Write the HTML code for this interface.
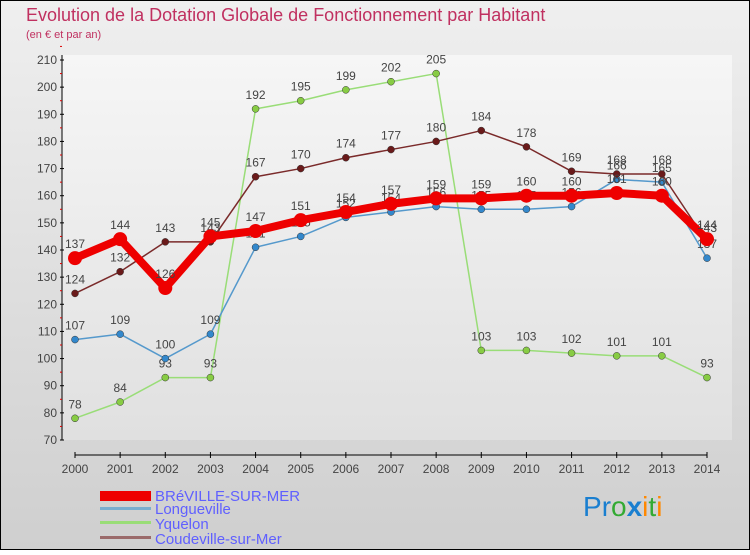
<!DOCTYPE html>
<html><head><meta charset="utf-8"><style>
body{margin:0;width:750px;height:550px;overflow:hidden;font-family:"Liberation Sans",sans-serif}
</style></head><body>
<svg width="750" height="550" xmlns="http://www.w3.org/2000/svg">
<defs>
<linearGradient id="bg" x1="0" y1="0" x2="0" y2="1"><stop offset="0" stop-color="#efefef"/><stop offset="1" stop-color="#cfcfcf"/></linearGradient>
<linearGradient id="pa" x1="0" y1="0" x2="0" y2="1"><stop offset="0" stop-color="#f6f6f6"/><stop offset="1" stop-color="#e0e0e0"/></linearGradient>
</defs>
<rect x="0.5" y="0.5" width="749" height="549" fill="url(#bg)" stroke="#000"/>
<rect x="62" y="55" width="670" height="385" fill="url(#pa)"/>
<text x="26" y="21" font-size="18" fill="#c03060">Evolution de la Dotation Globale de Fonctionnement par Habitant</text>
<text x="26" y="38" font-size="11" fill="#c03060">(en € et par an)</text>
<g id="axes"></g><g id="series"></g>
<g font-size="15" fill="#6060ff">
<rect x="100" y="491" width="51" height="10" fill="#ee0000"/>
<text x="155" y="501">BRéVILLE-SUR-MER</text>
<rect x="100" y="507" width="51" height="3" fill="#7aaed0"/>
<text x="155" y="514">Longueville</text>
<rect x="100" y="521" width="51" height="3" fill="#99dd77"/>
<text x="155" y="529">Yquelon</text>
<rect x="100" y="536" width="51" height="3" fill="#9a6a6a"/>
<text x="155" y="544">Coudeville-sur-Mer</text>
</g>
<g font-size="28">
<text x="583" y="516" fill="#1a7fd0">P<tspan fill="#1a7fd0">r</tspan><tspan fill="#33aa33">o</tspan><tspan fill="#1a7fd0" font-weight="bold">x</tspan><tspan fill="#ff8800">i</tspan><tspan fill="#33aa33">t</tspan><tspan fill="#ff8800">i</tspan></text>
</g>
</svg>
<script>
const years=[2000,2001,2002,2003,2004,2005,2006,2007,2008,2009,2010,2011,2012,2013,2014];
const breville=[137,144,126,145,147,151,154,157,159,159,160,160,161,160,144];
const longueville=[107,109,100,109,141,145,152,154,156,155,155,156,166,165,137];
const yquelon=[78,84,93,93,192,195,199,202,205,103,103,102,101,101,93];
const coudeville=[124,132,143,143,167,170,174,177,180,184,178,169,168,168,143];
const yTicks=[70,80,90,100,110,120,130,140,150,160,170,180,190,200,210];
const NS="http://www.w3.org/2000/svg";
const x=i=>75+i*(707-75)/(years.length-1);
const y=v=>440-(v-70)*(380/140);
function mk(t,a,p){const e=document.createElementNS(NS,t);for(const k in a)e.setAttribute(k,a[k]);p.appendChild(e);return e;}
const ax=document.getElementById('axes');
mk('line',{x1:62,y1:440,x2:62,y2:55,stroke:'#000'},ax);
mk('line',{x1:75,y1:455,x2:707,y2:455,stroke:'#000'},ax);
yTicks.forEach(v=>{
 const t=mk('text',{x:57,y:y(v)+4,'font-size':12,'text-anchor':'end',fill:'#444'},ax);t.textContent=v;
 
 
 mk('line',{x1:60,y1:y(v),x2:64,y2:y(v),stroke:'#000'},ax);
 mk('line',{x1:60,y1:y(v+5),x2:62,y2:y(v+5),stroke:'#d00'},ax);
});
years.forEach((yr,i)=>{
 mk('line',{x1:x(i),y1:452,x2:x(i),y2:458,stroke:'#000'},ax);
 const t=mk('text',{x:x(i),y:473,'font-size':12,'text-anchor':'middle',fill:'#444'},ax);t.textContent=yr;
 
 
});
const sg=document.getElementById('series');
function draw(vals,name,color,w,r,dot){
 const g=mk('g',{},sg);
 
 
 mk('polyline',{points:vals.map((v,i)=>x(i)+','+y(v)).join(' '),fill:'none',stroke:color,'stroke-width':w,'stroke-linejoin':'round'},g);
 vals.forEach((v,i)=>{
  const c=mk('circle',{cx:x(i),cy:y(v),r:r,fill:dot,stroke:'#333','stroke-width':r>5?0:0.5},g);
  
  
  const t=mk('text',{x:x(i),y:y(v)-10,'font-size':12,'text-anchor':'middle',fill:'#444'},g);t.textContent=v;
  
  
 });
}
draw(yquelon,'yquelon','#99dd77',1.5,3.5,'#88cc44');
draw(longueville,'longueville','#5599cc',1.5,3.5,'#3388cc');
draw(coudeville,'coudeville','#7a2a2a',1.5,3.5,'#6a1a1a');
draw(breville,'breville','#ee0000',8,7,'#ee0000');
</script>
</body></html>
